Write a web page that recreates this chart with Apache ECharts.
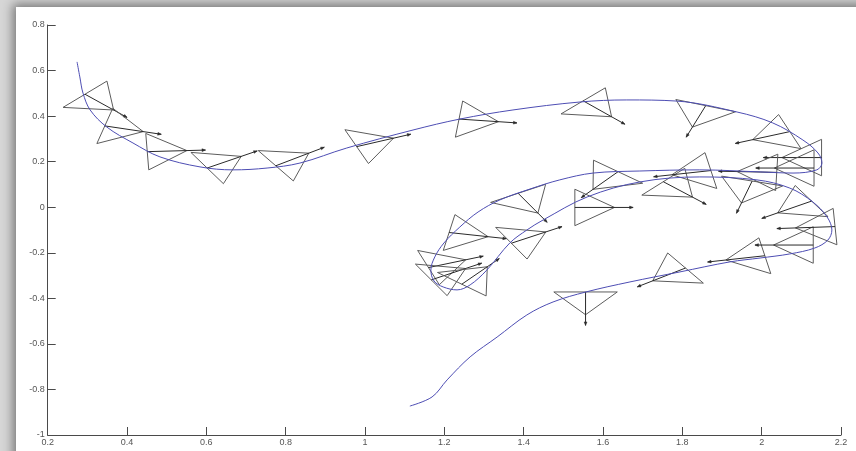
<!DOCTYPE html>
<html>
<head>
<meta charset="utf-8">
<script src="https://cdn.jsdelivr.net/npm/echarts@6/dist/echarts.min.js"></script>
<style>
  html, body { margin: 0; padding: 0; width: 856px; height: 451px; overflow: hidden; background: #d6d6d6; }
  #card { position: absolute; left: 16px; top: 7px; width: 860px; height: 460px; background: #fff;
          box-shadow: 0 0 10px 3px rgba(0,0,0,0.45); }
  #chart { position: absolute; left: 0; top: 0; width: 856px; height: 451px; }
</style>
</head>
<body>
<div id="card"></div>
<div id="chart"></div>
<script>
// Axis ticks
const xTicks = [0.2, 0.4, 0.6, 0.8, 1, 1.2, 1.4, 1.6, 1.8, 2, 2.2];
const yTicks = [-1, -0.8, -0.6, -0.4, -0.2, 0, 0.2, 0.4, 0.6, 0.8];

// Reference trajectory (x, y)
const pathX = [0.274, 0.281, 0.289, 0.307, 0.349, 0.415, 0.483, 0.584, 0.667, 0.753, 0.836, 0.954, 1.121, 1.239, 1.373, 1.542, 1.660, 1.786, 1.938, 2.028, 2.104, 2.142, 2.152, 2.139, 2.079, 1.996, 1.844, 1.693, 1.575, 1.491, 1.416, 1.340, 1.285, 1.239, 1.199, 1.176, 1.166, 1.174, 1.197, 1.232, 1.265, 1.307, 1.365, 1.408, 1.449, 1.560, 1.693, 1.844, 1.988, 2.071, 2.129, 2.165, 2.177, 2.167, 2.134, 2.071, 1.996, 1.920, 1.794, 1.668, 1.557, 1.474, 1.408, 1.333, 1.265, 1.207, 1.169, 1.113];
const pathY = [0.638, 0.572, 0.501, 0.427, 0.352, 0.282, 0.221, 0.177, 0.164, 0.172, 0.194, 0.260, 0.339, 0.387, 0.427, 0.462, 0.471, 0.466, 0.418, 0.370, 0.295, 0.238, 0.194, 0.164, 0.150, 0.155, 0.164, 0.159, 0.150, 0.120, 0.080, 0.032, -0.021, -0.087, -0.157, -0.218, -0.276, -0.324, -0.350, -0.363, -0.341, -0.276, -0.157, -0.100, -0.056, 0.045, 0.111, 0.133, 0.120, 0.084, 0.023, -0.043, -0.100, -0.144, -0.179, -0.205, -0.223, -0.240, -0.284, -0.328, -0.372, -0.416, -0.473, -0.570, -0.657, -0.758, -0.833, -0.873];

// Estimated poses: base-centre position and heading (degrees)
const poseX = [0.294, 0.344, 0.451, 0.602, 0.775, 0.979, 1.237, 1.550, 1.859, 2.071, 2.151,
               1.638, 1.529, 1.386, 1.212, 1.369, 1.752, 1.872,
               2.038, 2.132, 1.976, 2.126,
               1.160, 1.167, 1.244,
               1.556, 1.808, 2.008, 2.130, 2.185];
const poseY = [0.496, 0.357, 0.244, 0.172, 0.182, 0.266, 0.387, 0.467, 0.446, 0.332, 0.218,
               0.156, -0.001, 0.061, -0.111, -0.158, 0.112, 0.161,
               0.153, 0.172, 0.115, 0.027,
               -0.265, -0.319, -0.338,
               -0.372, -0.267, -0.213, -0.166, -0.085];
const poseTheta = [-43.8, -14.5, 2.7, 30.8, 33.6, 21.8, -6.6, -44.3, -109.6, -159.3, 180,
                   -129.2, 0, -60.1, -10.6, 29.7, -42.6, -169.3,
                   178, 180, -105.6, -148.8,
                   20, 30, 50,
                   -90, -145.8, -169.2, 180, -176.6];

// Triangle geometry in data units
const BASE_HALF = 0.08, TRI_LEN = 0.1, ARROW_LEN = 0.147;

const pathData = pathX.map((x, i) => [x, pathY[i]]);
const poseData = poseX.map((x, i) => [x, poseY[i], poseTheta[i]]);

function renderPose(params, api) {
  const x = api.value(0), y = api.value(1), th = api.value(2) * Math.PI / 180;
  const c = Math.cos(th), s = Math.sin(th);
  const b1 = api.coord([x - BASE_HALF * s, y + BASE_HALF * c]);
  const b2 = api.coord([x + BASE_HALF * s, y - BASE_HALF * c]);
  const tip = api.coord([x + TRI_LEN * c, y + TRI_LEN * s]);
  const p0 = api.coord([x, y]);
  const p1 = api.coord([x + ARROW_LEN * c, y + ARROW_LEN * s]);
  const dx = p1[0] - p0[0], dy = p1[1] - p0[1];
  const len = Math.hypot(dx, dy) || 1;
  const ux = dx / len, uy = dy / len;
  const hl = 3.5, hw = 1.4;
  const head = [
    p1,
    [p1[0] - hl * ux - hw * uy, p1[1] - hl * uy + hw * ux],
    [p1[0] - hl * ux + hw * uy, p1[1] - hl * uy - hw * ux]
  ];
  return {
    type: 'group',
    children: [
      { type: 'polygon', shape: { points: [b1, b2, tip] },
        style: { fill: 'none', stroke: '#5c5c5c', lineWidth: 1 } },
      { type: 'line', shape: { x1: p0[0], y1: p0[1], x2: p1[0], y2: p1[1] },
        style: { stroke: '#2a2a2a', lineWidth: 1 } },
      { type: 'polygon', shape: { points: head },
        style: { fill: '#2a2a2a', stroke: '#2a2a2a', lineWidth: 0.5 } }
    ]
  };
}

const chart = echarts.init(document.getElementById('chart'), null, { renderer: 'canvas' });
chart.setOption({
  animation: false,
  backgroundColor: 'transparent',
  grid: { left: 47.7, right: 15, top: 25, bottom: 16 },
  xAxis: {
    type: 'value', min: xTicks[0], max: xTicks[xTicks.length - 1], interval: 0.2,
    axisLine: { onZero: false, lineStyle: { color: '#4a4a4a', width: 1 } },
    axisTick: { inside: true, length: 8, lineStyle: { color: '#4a4a4a' } },
    axisLabel: { color: '#555', fontSize: 9, fontFamily: 'Liberation Sans, Arial, sans-serif', margin: 3 },
    splitLine: { show: false }
  },
  yAxis: {
    type: 'value', min: yTicks[0], max: yTicks[yTicks.length - 1], interval: 0.2,
    axisLine: { show: true, onZero: false, lineStyle: { color: '#4a4a4a', width: 1 } },
    axisTick: { show: true, inside: true, length: 8, lineStyle: { color: '#4a4a4a' } },
    axisLabel: { color: '#555', fontSize: 9, fontFamily: 'Liberation Sans, Arial, sans-serif', margin: 3 },
    splitLine: { show: false }
  },
  series: [
    {
      type: 'line', data: pathData, showSymbol: false, smooth: 0.35,
      lineStyle: { color: '#4d4db3', width: 1 }, z: 3
    },
    {
      type: 'custom', data: poseData, renderItem: renderPose,
      encode: { x: 0, y: 1 }, z: 2
    }
  ]
});
</script>
</body>
</html>
